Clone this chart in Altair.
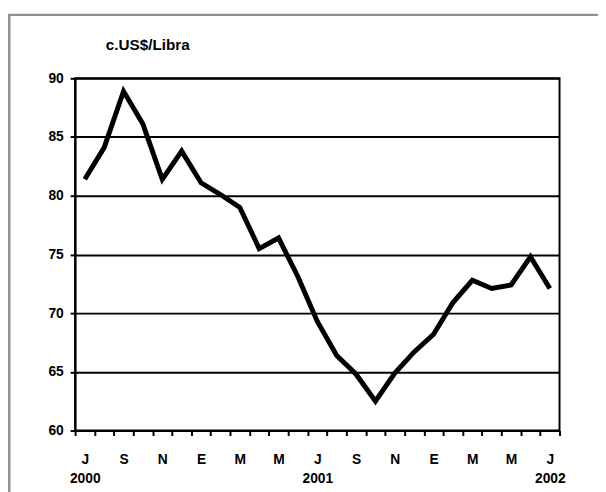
import altair as alt
import pandas as pd

# data
month_letters = ["J", "A", "S", "O", "N", "D", "E", "F", "M", "A", "M", "J",
                 "J", "A", "S", "O", "N", "D", "E", "F", "M", "A", "M", "J", "J"]
year_labels = {0: "2000", 12: "2001", 24: "2002"}
values = [81.4, 84.1, 88.9, 86.1, 81.4, 83.8, 81.1, 80.1, 79.0, 75.5, 76.4, 73.1,
          69.3, 66.4, 64.8, 62.5, 64.9, 66.7, 68.2, 70.9, 72.8, 72.1, 72.4, 74.8, 72.1]
y_ticks = [60, 65, 70, 75, 80, 85, 90]
unit_label = "c.US$/Libra"

df = pd.DataFrame({"idx": list(range(len(values))), "price": values})

FONT = "Liberation Sans"
n = len(values)
boundaries = [i - 0.5 for i in range(n + 1)]
label_idx = list(range(0, n, 2))

# build label expression (multi-line for years)
parts = []
for i in label_idx:
    if i in year_labels:
        parts.append(f"datum.value == {i} ? ['{month_letters[i]}', '{year_labels[i]}']")
    else:
        parts.append(f"datum.value == {i} ? '{month_letters[i]}'")
label_expr = " : ".join(parts) + " : ''"

xscale = alt.Scale(domain=[-0.5, n - 0.5], nice=False, zero=False)
yscale = alt.Scale(domain=[60, 90], nice=False, zero=False)

frame = alt.Chart(pd.DataFrame({"a": [0]})).mark_rect(
    fill=None, stroke="#8f8f8f", strokeWidth=2.5
).encode(
    x=alt.value(-66.7), y=alt.value(-64.3), x2=alt.value(800), y2=alt.value(800)
)

line = alt.Chart(df).mark_line(
    color="black", strokeWidth=5, strokeJoin="miter", strokeCap="butt"
).encode(
    x=alt.X("idx:Q", scale=xscale, title=None,
            axis=alt.Axis(values=boundaries, labels=False, ticks=True, tickSize=5,
                          tickWidth=2, tickColor="black", domain=True,
                          domainColor="black", domainWidth=2, grid=False,
                          orient="bottom")),
    y=alt.Y("price:Q", scale=yscale, title=None,
            axis=alt.Axis(values=y_ticks, tickSize=5, tickWidth=2, tickColor="black",
                          domainColor="black", domainWidth=2, grid=True,
                          gridColor="black", gridWidth=2, gridOpacity=1,
                          labelFont=FONT, labelFontSize=14, labelFontWeight="bold",
                          labelColor="black", labelPadding=7)),
)

labels = alt.Chart(df).mark_point(opacity=0).encode(
    x=alt.X("idx:Q", scale=xscale, title=None,
            axis=alt.Axis(values=label_idx, labelExpr=label_expr, ticks=False,
                          tickSize=0, domain=False, grid=False, orient="bottom",
                          labelFont=FONT, labelFontSize=14, labelFontWeight="bold",
                          labelColor="black", labelBaseline="top",
                          labelPadding=22, labelLineHeight=20, labelAlign="center")),
    y=alt.value(0),
)

title = alt.Chart(pd.DataFrame({"t": [unit_label]})).mark_text(
    align="left", baseline="alphabetic", font=FONT, fontSize=15.5,
    fontWeight="bold", color="black"
).encode(text="t:N", x=alt.value(31), y=alt.value(-29))

chart = alt.layer(frame, line, labels, title).resolve_axis(
    x="independent"
).properties(
    width=491, height=357,
    autosize=alt.AutoSizeParams(type="none"),
    padding={"left": 68, "top": 68, "right": 39, "bottom": 59},
).configure(
    background="white",
    view=alt.ViewConfig(stroke="black", strokeWidth=2),
)

chart.save("out.html", embed_options={"renderer": "svg", "actions": False})
